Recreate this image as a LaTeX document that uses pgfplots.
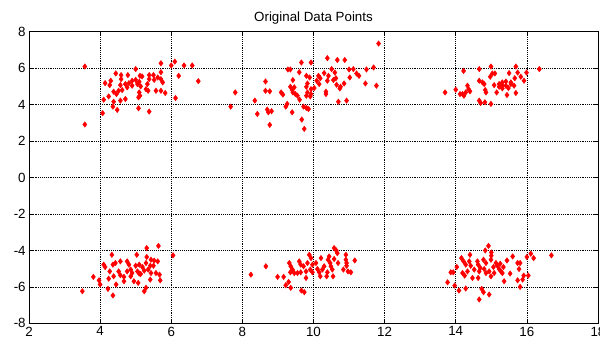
\documentclass[border=0pt]{standalone}
\usepackage{fontspec}
\setmainfont{Liberation Sans}
\usepackage{pgfplots}
\pgfplotsset{compat=1.18}
\begin{document}
\fontsize{10}{12}\selectfont
\begin{tikzpicture}
\begin{axis}[
  at={(0,0)}, anchor=south west,
  scale only axis,
  width=426.75pt, height=218.7pt,
  xmin=2, xmax=18, ymin=-8, ymax=8,
  xtick={2,4,...,18}, ytick={-8,-6,...,8},
  tick align=inside,
  major tick length=3pt,
  grid=major,
  major grid style={densely dotted, black, line width=0.5pt},
  axis line style={black, line width=0.6pt},
  tick style={black, line width=0.5pt},
  /pgf/number format/assume math mode=true,
  ticklabel style={font=\fontsize{10}{12}\selectfont},
  title={Original Data Points},
  title style={font=\fontsize{10}{12}\selectfont, yshift=-4pt},
  xticklabel style={yshift=1pt},
  yticklabel style={xshift=1pt},
]
\addplot[only marks, mark=diamond*, mark size=2pt, color=red, fill=red] table {
x y
3.57 6.09
3.57 2.91
5.00 5.95
5.71 6.27
6.00 6.15
6.10 6.36
6.36 6.15
6.59 6.15
6.21 5.58
6.76 5.29
6.12 4.36
5.71 5.78
4.44 5.71
4.59 5.62
4.78 5.62
5.12 5.58
5.18 5.55
5.38 5.62
5.50 5.62
5.62 5.49
5.71 5.40
5.76 5.22
4.14 5.18
4.30 5.31
4.27 5.07
4.59 5.40
4.57 5.07
4.71 5.13
4.81 5.18
4.90 5.31
5.00 5.36
5.10 5.25
4.90 5.04
5.05 5.13
5.14 5.00
5.33 5.13
5.38 5.40
5.52 5.36
4.38 4.71
4.52 4.76
4.62 4.80
4.76 4.95
4.46 4.58
4.24 4.45
5.10 4.67
5.12 4.49
5.08 4.40
5.29 4.85
5.35 4.76
5.57 4.76
5.71 4.76
5.83 4.64
4.71 4.31
4.57 4.22
4.38 4.16
4.10 4.27
4.36 3.89
4.48 3.71
4.07 3.53
5.08 3.80
5.38 3.62
11.83 7.35
7.67 3.89
7.80 4.67
8.35 4.22
8.42 3.49
8.65 5.27
8.65 4.76
8.77 4.73
8.70 3.73
8.73 3.58
8.82 3.64
8.77 2.89
9.09 4.67
9.14 4.55
9.22 3.89
9.26 4.04
9.28 5.93
9.35 5.93
9.40 3.58
9.42 5.35
9.35 4.98
9.40 4.80
9.42 4.67
9.49 4.58
9.46 4.95
9.55 4.49
9.61 4.27
9.66 6.31
9.60 5.78
9.67 3.18
9.74 2.67
9.72 3.89
9.80 3.82
9.86 3.76
9.80 5.58
9.83 5.16
9.80 4.98
9.83 4.67
9.80 4.49
9.91 4.45
9.93 4.58
9.93 6.31
9.93 4.85
9.89 5.49
10.02 4.91
10.14 5.58
10.09 5.31
10.16 5.13
10.19 5.45
10.30 5.73
10.39 6.55
10.42 5.58
10.39 5.31
10.35 4.58
10.35 4.71
10.51 5.95
10.60 5.76
10.67 6.45
10.88 6.45
10.56 5.35
10.63 5.45
10.65 5.09
10.74 4.89
10.76 4.98
10.86 5.16
10.70 4.16
10.93 4.22
11.00 5.93
11.12 5.95
11.21 5.71
11.28 5.58
11.02 5.49
11.49 5.93
11.69 6.04
11.46 5.16
11.77 5.04
13.70 4.67
14.00 4.82
14.22 5.85
14.66 5.95
14.99 6.09
15.69 6.09
16.35 5.95
15.03 5.71
15.10 5.71
14.97 5.53
15.50 5.73
15.74 5.76
15.99 5.76
15.83 5.53
15.66 5.45
15.92 5.31
14.66 5.31
14.75 5.22
14.80 5.13
15.08 5.07
15.22 5.13
15.31 5.22
15.41 5.27
15.55 5.22
15.22 4.98
15.31 5.04
15.41 5.04
15.55 5.13
15.64 5.04
15.48 4.91
15.31 4.89
14.33 5.04
14.36 4.85
14.28 4.67
14.19 4.58
14.23 4.49
14.12 4.58
14.40 4.73
14.83 4.80
14.85 4.67
15.15 4.67
15.44 4.53
15.69 4.64
14.66 4.22
14.70 4.09
14.82 4.13
14.99 4.04
3.50 -6.24
3.81 -5.45
3.97 -5.64
4.00 -5.87
4.22 -6.11
4.36 -6.47
4.33 -4.24
4.10 -4.78
4.14 -4.91
4.27 -5.15
4.24 -5.55
4.38 -5.42
4.36 -4.78
4.43 -4.69
4.57 -4.60
4.52 -5.15
4.57 -5.36
4.67 -5.45
4.45 -5.87
4.67 -5.69
4.76 -4.60
4.81 -4.78
4.86 -5.05
4.76 -5.15
4.90 -5.24
5.00 -4.84
5.05 -5.15
5.10 -5.27
5.03 -4.24
4.86 -5.42
4.95 -5.69
5.07 -5.78
5.10 -4.78
5.19 -4.91
5.24 -5.11
5.14 -5.29
5.31 -4.36
5.31 -3.87
5.64 -3.75
5.29 -4.69
5.43 -4.51
5.52 -4.56
5.62 -4.60
5.41 -4.84
5.50 -4.84
5.35 -5.05
5.43 -5.24
5.57 -5.24
5.67 -5.33
5.41 -5.60
5.69 -5.64
6.05 -4.27
5.24 -6.24
5.29 -6.05
8.24 -5.33
8.66 -4.87
8.99 -5.45
9.16 -5.45
9.22 -5.91
9.30 -5.73
9.36 -6.05
9.66 -6.20
9.74 -6.29
9.32 -4.69
9.36 -4.87
9.41 -5.05
9.35 -5.20
9.46 -5.24
9.60 -4.60
9.64 -4.78
9.72 -4.87
9.55 -5.24
9.64 -5.20
9.79 -5.15
9.79 -5.51
9.83 -4.69
9.88 -4.24
9.93 -4.42
9.97 -4.78
9.91 -5.05
9.97 -5.20
10.07 -4.69
10.11 -5.02
10.16 -5.20
10.21 -4.42
10.25 -5.05
10.30 -4.87
10.19 -5.42
10.37 -5.42
10.41 -4.51
10.44 -4.33
10.47 -4.69
10.49 -4.87
10.53 -5.05
10.39 -5.20
10.58 -3.87
10.64 -4.00
10.67 -4.15
10.58 -4.47
10.55 -5.42
10.91 -4.24
10.91 -4.51
10.93 -4.69
10.93 -4.84
10.84 -5.05
10.97 -5.15
11.05 -5.20
11.16 -4.55
10.69 -4.69
13.77 -5.75
13.86 -5.20
13.93 -5.20
13.97 -5.93
14.09 -6.20
14.28 -6.09
14.03 -4.91
14.16 -4.42
14.22 -4.60
14.28 -4.78
14.19 -5.24
14.25 -5.38
14.33 -5.15
14.40 -4.24
14.47 -5.51
14.38 -4.60
14.42 -4.84
14.52 -5.05
14.61 -4.60
14.63 -4.78
14.66 -5.15
14.63 -5.51
14.69 -4.96
14.73 -6.11
14.78 -6.29
14.66 -6.69
14.94 -6.42
14.83 -4.00
14.92 -3.75
15.00 -4.11
15.00 -4.29
14.99 -4.51
14.78 -4.51
14.85 -4.69
14.80 -5.02
14.85 -5.24
14.94 -5.15
14.99 -5.42
15.06 -4.91
15.08 -5.24
15.13 -4.69
15.17 -4.84
15.22 -5.02
15.27 -5.15
15.25 -4.73
15.31 -5.24
15.34 -4.91
15.36 -5.69
15.44 -4.55
15.53 -5.27
15.60 -4.33
15.74 -4.69
15.81 -4.69
15.78 -5.02
15.91 -5.38
16.04 -5.38
15.74 -5.64
15.88 -5.60
15.81 -6.00
16.00 -4.36
16.11 -4.18
16.19 -4.42
16.69 -4.27
};
\end{axis}
\pgfresetboundingbox
\path (-21.75pt,-12.5pt) rectangle (428.25pt,242.5pt);
\end{tikzpicture}
\end{document}
